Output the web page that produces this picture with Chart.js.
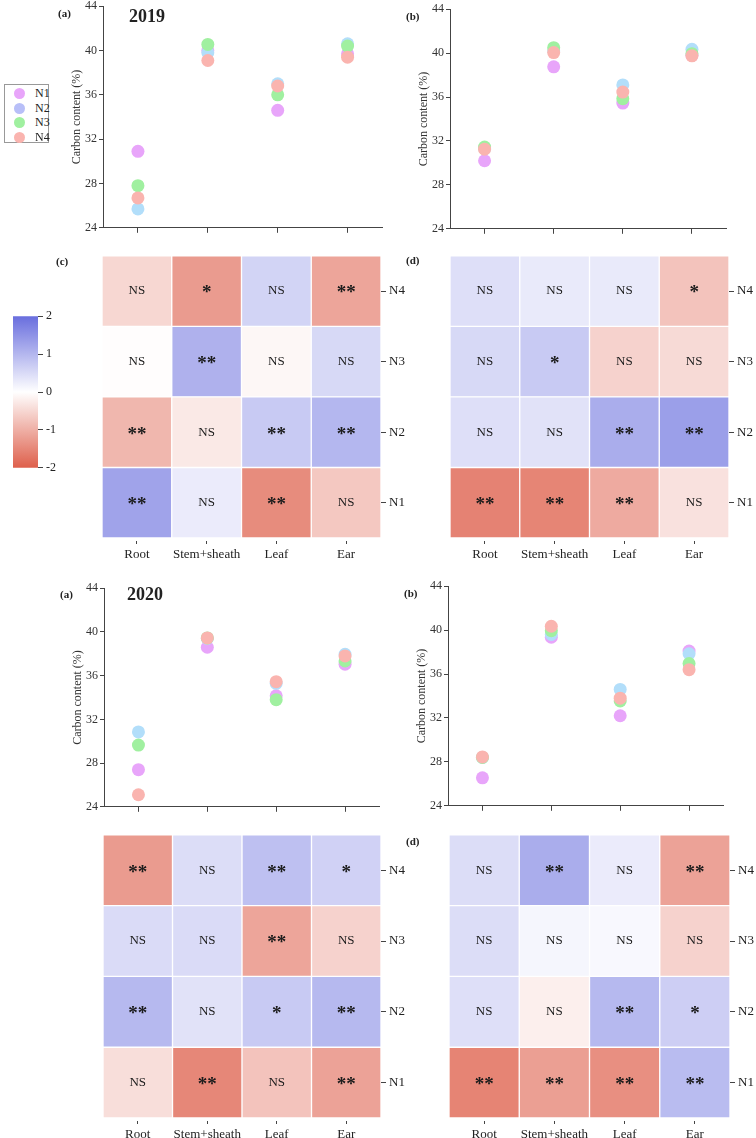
<!DOCTYPE html>
<html>
<head>
<meta charset="utf-8">
<script src="https://cdn.jsdelivr.net/npm/chart.js@4.4.1/dist/chart.umd.min.js"></script>
<style>
  html, body { margin: 0; padding: 0; background: #fff; overflow: hidden; }
  body { width: 756px; height: 1138px; position: relative; font-family: "Liberation Serif", "Times New Roman", serif; color: #222; }
  canvas { position: absolute; }
  .tag { position: absolute; font-weight: bold; font-size: 11px; line-height: 11px; }
  .year { position: absolute; font-weight: bold; font-size: 18px; line-height: 18px; }
  .legend { position: absolute; left: 4px; top: 84px; width: 45px; height: 59px; border: 1px solid #999; box-sizing: border-box; }
  .legend div { position: absolute; left: 0; height: 14px; font-size: 12px; line-height: 14px; }
  .legend span { position: absolute; top: 2px; left: 9px; width: 11px; height: 11px; border-radius: 50%; }
  .legend b { position: absolute; left: 30px; font-weight: normal; }
</style>
</head>
<body>
<script>
const organs = ['Root', 'Stem+sheath', 'Leaf', 'Ear'];
const treatments = ['N1', 'N2', 'N3', 'N4'];
const pointColors = ['#e8a5fa', '#b2defa', '#a0f0a0', '#fab4af'];
const legendColors = ['#e8a5fa', '#b8bff8', '#a0f0a0', '#fab4af'];
const carbonTicks = [24, 28, 32, 36, 40, 44];
const colorTicks = [-2, -1, 0, 1, 2];

// carbon content (%), one row per treatment N1..N4, columns follow organs
const carbon2019a = [
    [30.9, 40.0, 34.6, 39.7],
    [25.7, 39.8, 37.0, 40.6],
    [27.8, 40.55, 36.0, 40.4],
    [26.7, 39.1, 36.8, 39.4]
];
const carbon2019b = [
    [30.2, 38.75, 35.45, 39.8],
    [31.3, 40.2, 37.1, 40.35],
    [31.45, 40.5, 35.85, 39.95],
    [31.25, 40.05, 36.45, 39.75]
];
const carbon2020a = [
    [27.4, 38.6, 34.15, 37.05],
    [30.85, 39.4, 35.3, 37.95],
    [29.65, 39.45, 33.8, 37.35],
    [25.1, 39.45, 35.45, 37.8]
];
const carbon2020b = [
    [26.55, 39.35, 32.2, 38.1],
    [28.4, 39.6, 34.6, 37.85],
    [28.4, 39.95, 33.55, 36.95],
    [28.45, 40.35, 33.8, 36.4]
];

// heatmap z values, rows N1..N4 (bottom to top)
const z2019c = [
    [1.27, 0.27, -1.44, -0.69],
    [-0.9, -0.28, 0.73, 1.0],
    [-0.02, 1.07, -0.1, 0.53],
    [-0.5, -1.25, 0.6, -1.12]
];
const sig2019c = [
    ['**', 'NS', '**', 'NS'],
    ['**', 'NS', '**', '**'],
    ['NS', '**', 'NS', 'NS'],
    ['NS', '*', 'NS', '**']
];
const z2019d = [
    [-1.56, -1.53, -1.06, -0.37],
    [0.44, 0.4, 1.13, 1.33],
    [0.53, 0.73, -0.56, -0.46],
    [0.44, 0.29, 0.29, -0.75]
];
const sig2019d = [
    ['**', '**', '**', 'NS'],
    ['NS', 'NS', '**', '**'],
    ['NS', '*', 'NS', 'NS'],
    ['NS', 'NS', 'NS', '*']
];
const z2020c = [
    [-0.41, -1.5, -0.75, -1.16],
    [0.97, 0.4, 0.73, 0.97],
    [0.5, 0.5, -1.12, -0.56],
    [-1.25, 0.47, 0.87, 0.63]
];
const sig2020c = [
    ['NS', '**', 'NS', '**'],
    ['**', 'NS', '*', '**'],
    ['NS', 'NS', '**', 'NS'],
    ['**', 'NS', '**', '*']
];
const z2020d = [
    [-1.54, -1.2, -1.4, 0.93],
    [0.44, -0.2, 0.97, 0.67],
    [0.47, 0.13, 0.09, -0.56],
    [0.47, 1.13, 0.27, -1.16]
];
const sig2020d = [
    ['**', '**', '**', '**'],
    ['NS', 'NS', '**', '*'],
    ['NS', 'NS', 'NS', 'NS'],
    ['NS', '**', 'NS', '**']
];

Chart.defaults.font.family = '"Liberation Serif", "Times New Roman", serif';
Chart.defaults.color = '#333';
Chart.defaults.animation = false;

const lowColor = [222, 95, 75];
const highColor = [105, 110, 222];

function cmap(v) {
    const t = Math.min(Math.abs(v) / 2, 1);
    const c = v < 0 ? lowColor : highColor;
    const ch = c.map(k => Math.round(255 + (k - 255) * t));
    return 'rgb(' + ch.join(',') + ')';
}

function makeCanvas(left, top, w, h) {
    const cv = document.createElement('canvas');
    cv.width = w;
    cv.height = h;
    cv.style.left = left + 'px';
    cv.style.top = top + 'px';
    cv.style.width = w + 'px';
    cv.style.height = h + 'px';
    document.body.appendChild(cv);
    return cv;
}

function addText(cls, text, left, cy) {
    const d = document.createElement('div');
    d.className = cls;
    d.textContent = text;
    d.style.left = left + 'px';
    d.style.top = (cy - (cls === 'year' ? 9 : 5.5)) + 'px';
    document.body.appendChild(d);
}

const noPlugins = { legend: { display: false }, tooltip: { enabled: false } };

// Scatter panels
function scatterPanel(area, series) {
    const yw = 45, top = 8, right = 6, xh = 8;
    const cv = makeCanvas(area.l - yw, area.t - top, yw + (area.r - area.l) + right, top + (area.b - area.t) + xh);
    new Chart(cv, {
        type: 'line',
        data: {
            labels: organs,
            datasets: treatments.map((name, i) => ({
                label: name,
                data: series[i],
                order: treatments.length - i,   // N4 ends up on top
                showLine: false,
                pointRadius: 6.5,
                pointBackgroundColor: pointColors[i],
                pointBorderWidth: 0,
                pointBorderColor: 'rgba(0,0,0,0)'
            }))
        },
        options: {
            responsive: false,
            events: [],
            layout: { padding: { top: top, right: right, left: 0, bottom: 0 } },
            plugins: noPlugins,
            scales: {
                x: {
                    type: 'category',
                    offset: true,
                    grid: { drawOnChartArea: false, tickLength: 5, color: '#444', offset: false },
                    border: { color: '#444' },
                    ticks: { display: false },
                    afterFit: s => { s.height = xh; }
                },
                y: {
                    min: 24,
                    max: 44,
                    afterBuildTicks: s => { s.ticks = carbonTicks.map(v => ({ value: v })); },
                    grid: { drawOnChartArea: false, tickLength: 4, color: '#444' },
                    border: { color: '#444' },
                    ticks: { padding: 2, color: '#333', font: { size: 12 } },
                    title: { display: true, text: 'Carbon content (%)', color: '#333', font: { size: 12 }, padding: { top: 12, bottom: 0 } },
                    afterFit: s => { s.width = yw; }
                }
            }
        }
    });
}

// significance marks drawn on top of each cell
const cellText = {
    id: 'cellText',
    afterDatasetsDraw(chart, args, opts) {
        const ctx = chart.ctx;
        chart.data.datasets.forEach((ds, i) => {
            chart.getDatasetMeta(i).data.forEach((bar, j) => {
                const s = opts.sig[i][j];
                const star = s !== 'NS';
                ctx.save();
                ctx.fillStyle = '#1b1b1b';
                ctx.font = star ? 'bold 19px "Liberation Serif", serif' : '13px "Liberation Serif", serif';
                ctx.textAlign = 'center';
                ctx.textBaseline = 'middle';
                ctx.fillText(s, bar.x, (bar.y + bar.base) / 2 + (star ? 2.5 : 0));
                ctx.restore();
            });
        });
    }
};

function heatPanel(area, z, sig) {
    const left = 2, top = 10, yw = 30, xh = 22, gap = 3;
    const h = area.b - area.t;
    const cv = makeCanvas(area.l - left, area.t - top, left + (area.r - area.l) + yw, top + h + gap + xh);
    new Chart(cv, {
        type: 'bar',
        data: {
            labels: organs,
            datasets: treatments.map((name, i) => ({
                label: name,
                data: organs.map(() => 1),
                backgroundColor: z[i].map(cmap),
                borderColor: '#fff',
                borderWidth: 1,
                borderSkipped: false,
                categoryPercentage: 1,
                barPercentage: 1
            }))
        },
        options: {
            responsive: false,
            events: [],
            layout: { padding: { top: top, left: left, right: 0, bottom: 0 } },
            plugins: Object.assign({ cellText: { sig: sig } }, noPlugins),
            scales: {
                x: {
                    stacked: true,
                    grid: { drawOnChartArea: false, tickLength: 3, color: '#444', offset: false },
                    border: { display: false },
                    ticks: { padding: 3, color: '#222', autoSkip: false, maxRotation: 0, font: { size: 13 } },
                    afterFit: s => { s.height = xh; }
                },
                y: {
                    position: 'right',
                    stacked: true,
                    min: -gap / (h / 4),
                    max: 4,
                    afterBuildTicks: s => { s.ticks = treatments.map((t, i) => ({ value: i + 0.5 })); },
                    grid: { drawOnChartArea: false, tickLength: 5, color: '#444' },
                    border: { display: false },
                    ticks: { padding: 3, color: '#222', font: { size: 13 }, callback: (v, i) => treatments[i] },
                    afterFit: s => { s.width = yw; }
                }
            }
        },
        plugins: [cellText]
    });
}

function colorBar(area) {
    const top = 8, yw = 25;
    const cv = makeCanvas(area.l, area.t - top, (area.r - area.l) + yw, top + (area.b - area.t) + top);
    new Chart(cv, {
        type: 'bar',
        data: {
            labels: ['z'],
            datasets: [{
                data: [[colorTicks[0], colorTicks[colorTicks.length - 1]]],
                backgroundColor: c => {
                    const ch = c.chart;
                    const y = ch.scales.y;
                    if (!ch.chartArea || !y) return '#fff';
                    const g = ch.ctx.createLinearGradient(0, y.getPixelForValue(-2), 0, y.getPixelForValue(2));
                    g.addColorStop(0, cmap(-2));
                    g.addColorStop(0.5, cmap(0));
                    g.addColorStop(1, cmap(2));
                    return g;
                },
                borderWidth: 0,
                categoryPercentage: 1,
                barPercentage: 1
            }]
        },
        options: {
            responsive: false,
            events: [],
            layout: { padding: { top: top, bottom: top, left: 0, right: 0 } },
            plugins: noPlugins,
            scales: {
                x: { display: false },
                y: {
                    position: 'right',
                    min: -2,
                    max: 2,
                    afterBuildTicks: s => { s.ticks = colorTicks.map(v => ({ value: v })); },
                    grid: { drawOnChartArea: false, tickLength: 5, color: '#444' },
                    border: { display: false },
                    ticks: { padding: 3, color: '#222', font: { size: 12 } },
                    afterFit: s => { s.width = yw; }
                }
            }
        }
    });
}

scatterPanel({ l: 103, t: 5, r: 383, b: 229 }, carbon2019a);
scatterPanel({ l: 450, t: 8, r: 727, b: 230 }, carbon2019b);
scatterPanel({ l: 104, t: 587, r: 380, b: 808 }, carbon2020a);
scatterPanel({ l: 448, t: 585, r: 724, b: 807 }, carbon2020b);

heatPanel({ l: 102, t: 255, r: 381, b: 538 }, z2019c, sig2019c);
heatPanel({ l: 450, t: 255, r: 729, b: 538 }, z2019d, sig2019d);
heatPanel({ l: 103, t: 834, r: 381, b: 1118 }, z2020c, sig2020c);
heatPanel({ l: 449, t: 834, r: 730, b: 1118 }, z2020d, sig2020d);

colorBar({ l: 13, t: 314, r: 38, b: 470 });

// Legend
const legend = document.createElement('div');
legend.className = 'legend';
treatments.forEach((name, i) => {
    const row = document.createElement('div');
    row.style.top = (1 + i * 14.5) + 'px';
    row.style.width = '43px';
    row.innerHTML = '<span style="background:' + legendColors[i] + '"></span><b>' + name + '</b>';
    legend.appendChild(row);
});
document.body.appendChild(legend);

// Panel tags
addText('tag', '(a)', 58, 13);
addText('year', '2019', 129, 16);
addText('tag', '(b)', 406, 16);
addText('tag', '(c)', 56, 261);
addText('tag', '(d)', 406, 260);
addText('tag', '(a)', 60, 594);
addText('year', '2020', 127, 594);
addText('tag', '(b)', 404, 593);
addText('tag', '(d)', 406, 841);
</script>
</body>
</html>
